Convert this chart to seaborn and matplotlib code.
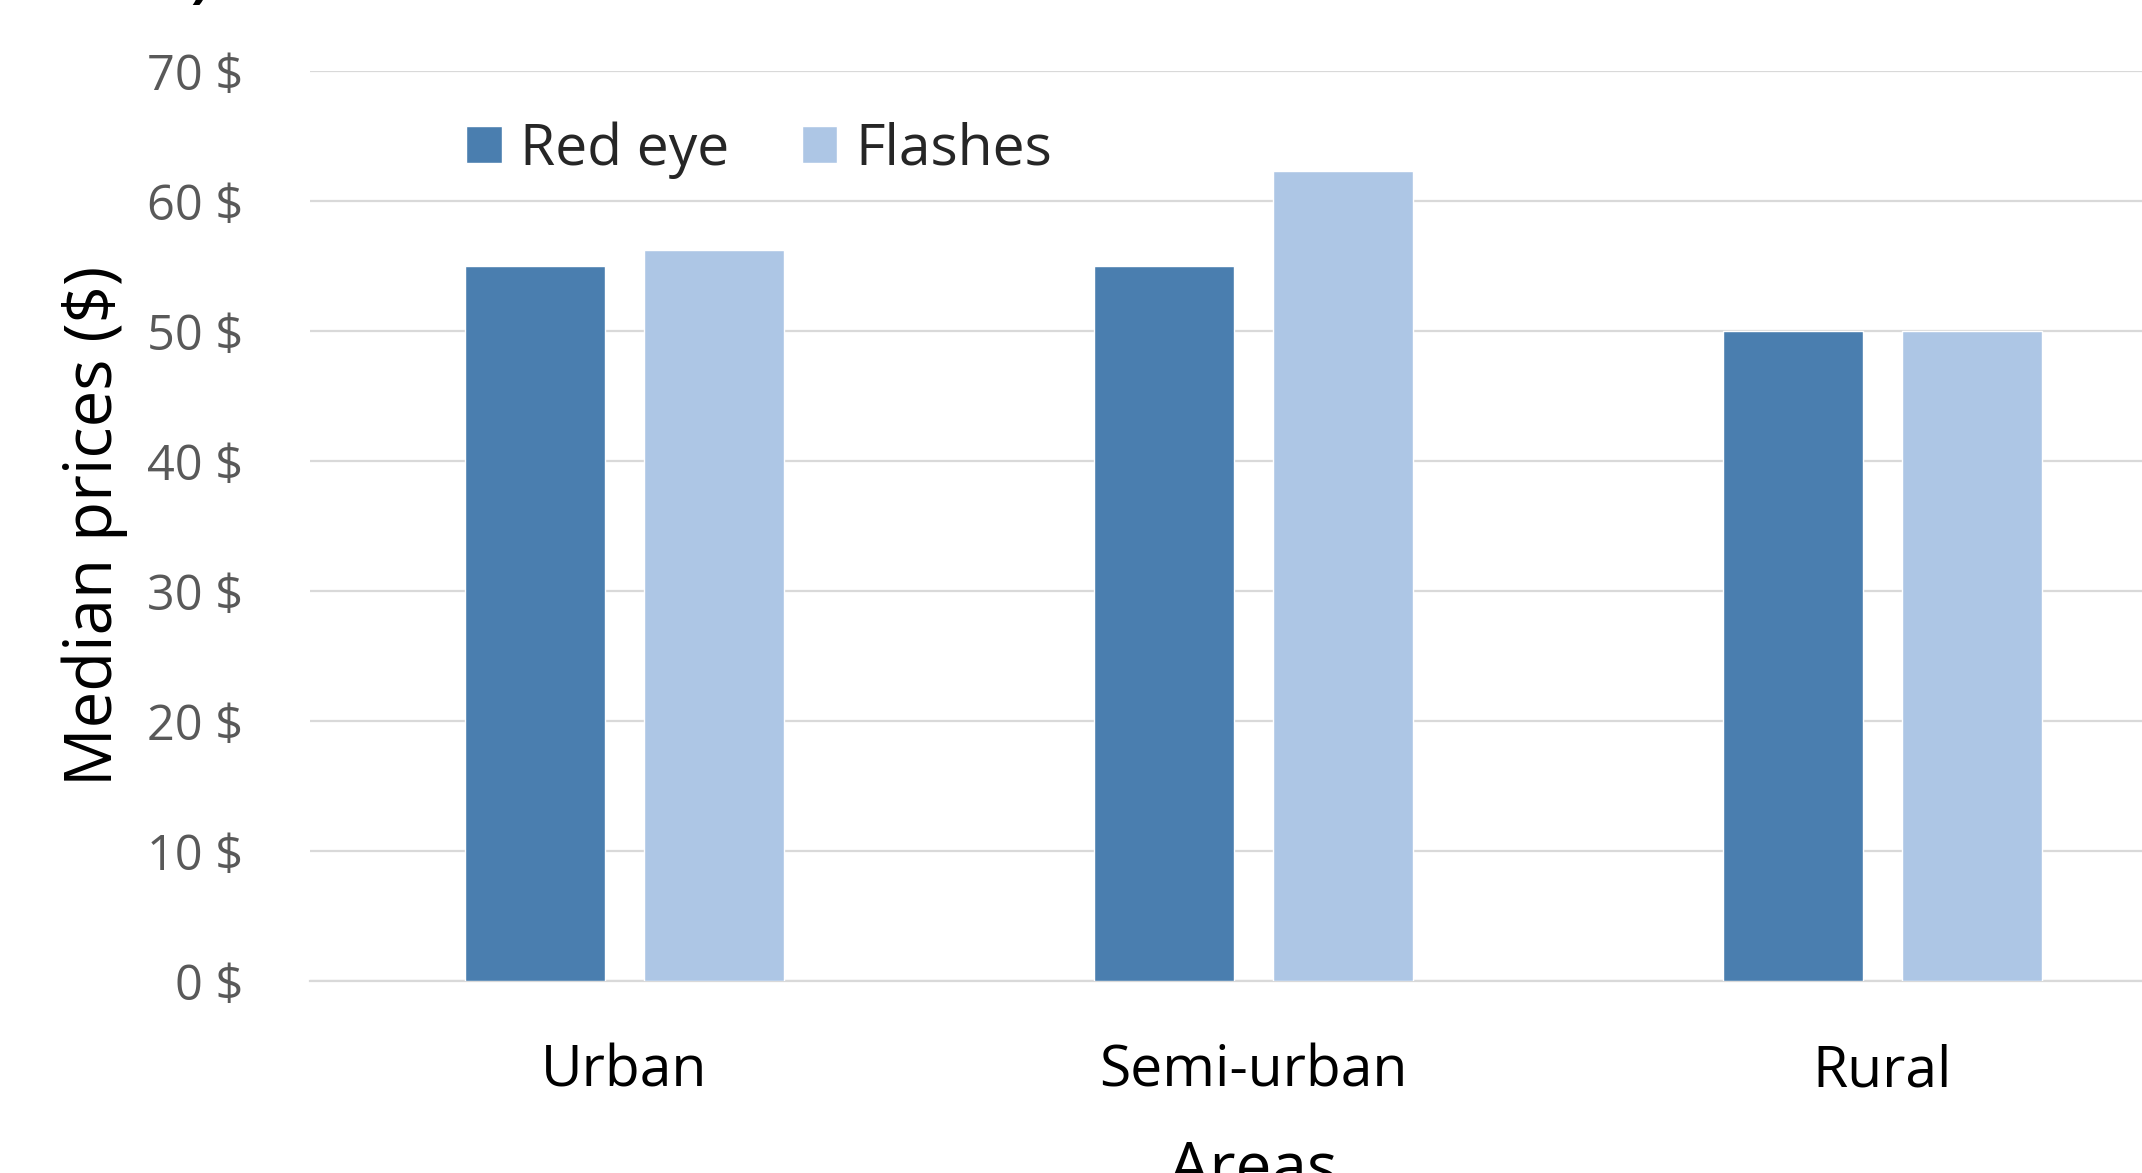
import pandas as pd
import matplotlib.pyplot as plt
import seaborn as sns

sns.set_theme(style='white')
plt.rcParams['font.family'] = ['Open Sans', 'DejaVu Sans']

# --- data
areas = ['Urban', 'Semi-urban', 'Rural']
series = ['Red eye', 'Flashes']
red_eye = [55, 55, 50]
flashes = [56.2, 62.3, 50]
y_ticks = [0, 10, 20, 30, 40, 50, 60, 70]

df = pd.DataFrame({
    'area': areas * 2,
    'kind': [series[0]] * 3 + [series[1]] * 3,
    'price': red_eye + flashes,
})

colors = {'Red eye': '#4A7EAF', 'Flashes': '#ADC6E5'}
grid_col = '#D9D9D9'
tick_col = '#595959'

fig = plt.figure(figsize=(21.42, 11.73), dpi=100)
ax = fig.add_axes([0.1447, 0.1637, 0.881, 0.7758])

sns.barplot(data=df, x='area', y='price', hue='kind', order=areas,
            hue_order=series, palette=colors, width=0.571, gap=0.22,
            saturation=1, ax=ax, zorder=3)

ax.set_xlim(-0.5, 2.5)
ax.set_ylim(0, 70)
ax.set_yticks(y_ticks)
ax.set_yticklabels([f'{v} $' for v in y_ticks])
ax.yaxis.grid(True, color=grid_col, linewidth=1.6, zorder=0)
ax.set_axisbelow(True)
for s in ['top', 'right', 'left']:
    ax.spines[s].set_visible(False)
ax.spines['bottom'].set_color(grid_col)
ax.spines['bottom'].set_linewidth(1.6)

ax.tick_params(axis='y', length=0, pad=48, labelsize=35, labelcolor=tick_col)
ax.tick_params(axis='x', length=0, pad=45, labelsize=41, labelcolor='black')

ax.set_ylabel('Median prices ($)', fontsize=47, color='black', labelpad=14)
ax.set_xlabel('Areas', fontsize=46, color='black')
ax.xaxis.set_label_coords(0.5, -0.173)
ax.xaxis.label.set_va('top')

# legend across the top, no frame
ax.legend(loc='center left', bbox_to_anchor=(0.2175, 0.872),
          bbox_transform=fig.transFigure, ncol=2, frameon=False,
          fontsize=41, handlelength=0.63, handleheight=0.63,
          handletextpad=0.32, columnspacing=1.27, borderpad=0,
          borderaxespad=0)

# fragment of a label cut by the top edge
fig.text(0.0887, 1.0034, ')', fontsize=40, fontweight='bold',
         ha='left', va='baseline', color='black')

plt.savefig('out.png', dpi=100)
plt.close(fig)
